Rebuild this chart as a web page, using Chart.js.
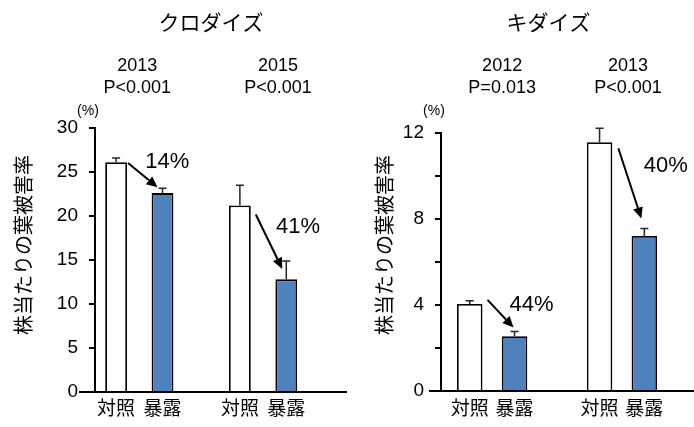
<!DOCTYPE html>
<html lang="ja">
<head>
<meta charset="utf-8">
<title>株当たりの葉被害率</title>
<script src="https://cdn.jsdelivr.net/npm/chart.js@4/dist/chart.umd.min.js"></script>
<style>
  html, body { margin: 0; padding: 0; background: #ffffff; }
  #wrap { position: relative; width: 694px; height: 427px; overflow: hidden; }
  #wrap canvas { position: absolute; top: 0; }
</style>
</head>
<body>
<div id="wrap">
  <canvas id="kuro" width="347" height="427" style="left:0"></canvas>
  <canvas id="ki" width="347" height="427" style="left:347px"></canvas>
</div>
<script>
// Bar names shown under every bar
const groupLabels = ['対照', '暴露'];
const yAxisTitle = '株当たりの葉被害率';
const unitLabel = '(%)';

// クロダイズ
const kuroTitle = 'クロダイズ';
const kuroYears = ['2013', '2015'];
const kuroPValues = ['P<0.001', 'P<0.001'];
const kuroControl = [26.1, 21.2];
const kuroControlErr = [0.5, 2.3];
const kuroExposed = [22.6, 12.8];
const kuroExposedErr = [0.55, 2.1];
const kuroReduction = ['14%', '41%'];
const kuroTickValues = [0, 5, 10, 15, 20, 25, 30];
const kuroTickLabels = ['0', '5', '10', '15', '20', '25', '30'];

// キダイズ
const kiTitle = 'キダイズ';
const kiYears = ['2012', '2013'];
const kiPValues = ['P=0.013', 'P<0.001'];
const kiControl = [4.05, 11.57];
const kiControlErr = [0.15, 0.65];
const kiExposed = [2.55, 7.21];
const kiExposedErr = [0.22, 0.35];
const kiReduction = ['44%', '40%'];
const kiTickValues = [0, 2, 4, 6, 8, 10, 12];
const kiTickLabels = ['0', '', '4', '', '8', '', '12'];

const fontNum = '"Liberation Sans", Arial, sans-serif';
const fontJa = '"Noto Sans CJK JP", "Noto Sans", sans-serif';

function drawArrow(ctx, x0, y0, x1, y1) {
  const ang = Math.atan2(y1 - y0, x1 - x0);
  const hl = 11, hw = 5;
  const bx = x1 - hl * Math.cos(ang), by = y1 - hl * Math.sin(ang);
  ctx.beginPath();
  ctx.moveTo(x0, y0);
  ctx.lineTo(bx, by);
  ctx.stroke();
  ctx.beginPath();
  ctx.moveTo(x1, y1);
  ctx.lineTo(bx + hw * Math.sin(ang), by - hw * Math.cos(ang));
  ctx.lineTo(bx - hw * Math.sin(ang), by + hw * Math.cos(ang));
  ctx.closePath();
  ctx.fill();
}

function makeChart(canvasId, spec, style) {
  const series = [
    { label: groupLabels[0], values: spec.control, errors: spec.controlErr, fill: '#ffffff' },
    { label: groupLabels[1], values: spec.exposed, errors: spec.exposedErr, fill: '#4F81BD' }
  ];

  const datasets = series.map(s => ({
    label: s.label,
    data: s.values.map((v, i) => ({ x: i, y: v })),
    backgroundColor: s.fill,
    borderColor: '#000000',
    borderWidth: 1.8,
    borderSkipped: 'bottom',
    categoryPercentage: style.catPct,
    barPercentage: style.barPct
  }));

  // Error bars, bar names, headers, titles and reduction arrows
  const annotate = {
    id: 'annotate',
    afterDraw(chart) {
      const ctx = chart.ctx;
      const area = chart.chartArea;
      const xs = chart.scales.x;
      const ys = chart.scales.y;
      const metas = series.map((s, d) => chart.getDatasetMeta(d));
      ctx.save();

      // baseline continues a little past the value axis
      const y0 = Math.round(ys.getPixelForValue(0));
      ctx.strokeStyle = '#000000';
      ctx.lineWidth = 2;
      ctx.beginPath();
      ctx.moveTo(area.left - style.baseExt, y0);
      ctx.lineTo(area.left, y0);
      ctx.stroke();

      // upper error bars
      ctx.strokeStyle = '#262626';
      ctx.lineWidth = 1.5;
      series.forEach((s, d) => {
        metas[d].data.forEach((el, i) => {
          const yTop = ys.getPixelForValue(s.values[i] + s.errors[i]);
          ctx.beginPath();
          ctx.moveTo(el.x, el.y);
          ctx.lineTo(el.x, yTop);
          ctx.moveTo(el.x - 4, yTop);
          ctx.lineTo(el.x + 4, yTop);
          ctx.stroke();
        });
      });

      ctx.fillStyle = '#000000';
      ctx.textAlign = 'center';
      ctx.textBaseline = 'middle';

      // bar names
      ctx.font = '19px ' + fontJa;
      series.forEach((s, d) => {
        metas[d].data.forEach(el => {
          ctx.fillText(s.label, el.x, area.bottom + style.nameGap);
        });
      });

      // year and significance above each pair
      ctx.font = '18px ' + fontNum;
      spec.years.forEach((yr, i) => {
        const x = xs.getPixelForValue(i) + style.headerShift[i];
        ctx.fillText(yr, x, 66.5);
        ctx.fillText(spec.pvalues[i], x, 88.5);
      });

      // chart title
      ctx.font = '21px ' + fontJa;
      ctx.fillText(spec.title, style.titleX, 22);

      // unit
      ctx.font = '14px ' + fontNum;
      ctx.fillText(unitLabel, area.left - 7, 111);

      // value axis title
      ctx.save();
      ctx.translate(style.yTitleX, style.yTitleY);
      ctx.rotate(-Math.PI / 2);
      ctx.font = '20px ' + fontJa;
      ctx.fillText(yAxisTitle, 0, 0);
      ctx.restore();

      // reduction arrows and percentages
      ctx.strokeStyle = '#000000';
      ctx.lineWidth = 2;
      ctx.font = '22px ' + fontNum;
      spec.reduction.forEach((txt, i) => {
        const ctl = metas[0].data[i];
        const exp = metas[1].data[i];
        const a = style.arrows[i];
        const xa = ctl.x + ctl.width / 2 + a[0];
        const ya = ctl.y + a[1];
        const xb = exp.x + a[2];
        const yb = ys.getPixelForValue(spec.exposed[i] + spec.exposedErr[i]) + a[3];
        drawArrow(ctx, xa, ya, xb, yb);
        const p = style.pctShift[i];
        ctx.fillText(txt, (xa + xb) / 2 + p[0], (ya + yb) / 2 + p[1]);
      });

      ctx.restore();
    }
  };

  return new Chart(document.getElementById(canvasId), {
    type: 'bar',
    data: { datasets },
    options: {
      responsive: false,
      animation: false,
      events: [],
      layout: { padding: { left: 0, right: 0, top: style.top, bottom: style.bottom } },
      plugins: { legend: { display: false }, tooltip: { enabled: false }, title: { display: false } },
      scales: {
        x: {
          type: 'linear',
          min: style.xMin,
          max: style.xMax,
          offset: false,
          afterBuildTicks: s => { s.ticks = spec.years.map((y, i) => ({ value: i })); },
          afterFit: s => { s.height = 0; },
          grid: { display: false, drawTicks: false },
          ticks: { display: false },
          border: { display: true, color: '#000000', width: 2 }
        },
        y: {
          min: spec.tickValues[0],
          max: spec.tickValues[spec.tickValues.length - 1],
          afterBuildTicks: s => { s.ticks = spec.tickValues.map(v => ({ value: v })); },
          afterFit: s => { s.width = style.axisWidth; },
          ticks: {
            callback: (v, i) => spec.tickLabels[i],
            color: '#000000',
            font: { family: fontNum, size: 19 },
            padding: 11
          },
          grid: { drawOnChartArea: false, drawTicks: true, tickLength: 6, color: '#000000', lineWidth: 2 },
          border: { display: true, color: '#000000', width: 2 }
        }
      }
    },
    plugins: [annotate]
  });
}

makeChart('kuro', {
  title: kuroTitle, years: kuroYears, pvalues: kuroPValues,
  control: kuroControl, controlErr: kuroControlErr,
  exposed: kuroExposed, exposedErr: kuroExposedErr,
  reduction: kuroReduction, tickValues: kuroTickValues, tickLabels: kuroTickLabels
}, {
  top: 128, bottom: 35, axisWidth: 95, xMin: -0.358, xMax: 1.678,
  catPct: 0.75, barPct: 0.47, baseExt: 16, nameGap: 16,
  headerShift: [-2, 15], titleX: 211, yTitleX: 23, yTitleY: 245,
  arrows: [[1, 0.6, -5, -1], [5, 9, -4, 8]],
  pctShift: [[24.5, -13], [29, -15]]
});

makeChart('ki', {
  title: kiTitle, years: kiYears, pvalues: kiPValues,
  control: kiControl, controlErr: kiControlErr,
  exposed: kiExposed, exposedErr: kiExposedErr,
  reduction: kiReduction, tickValues: kiTickValues, tickLabels: kiTickLabels
}, {
  top: 133, bottom: 36, axisWidth: 94, xMin: -0.394, xMax: 1.555,
  catPct: 0.69, barPct: 0.57, baseExt: 12, nameGap: 17,
  headerShift: [10, 6], titleX: 201.5, yTitleX: 37.5, yTitleY: 245,
  arrows: [[5, -4, -1, -4], [6, 6, -3, -10]],
  pctShift: [[31, -9], [36, -17]]
});
</script>
</body>
</html>
